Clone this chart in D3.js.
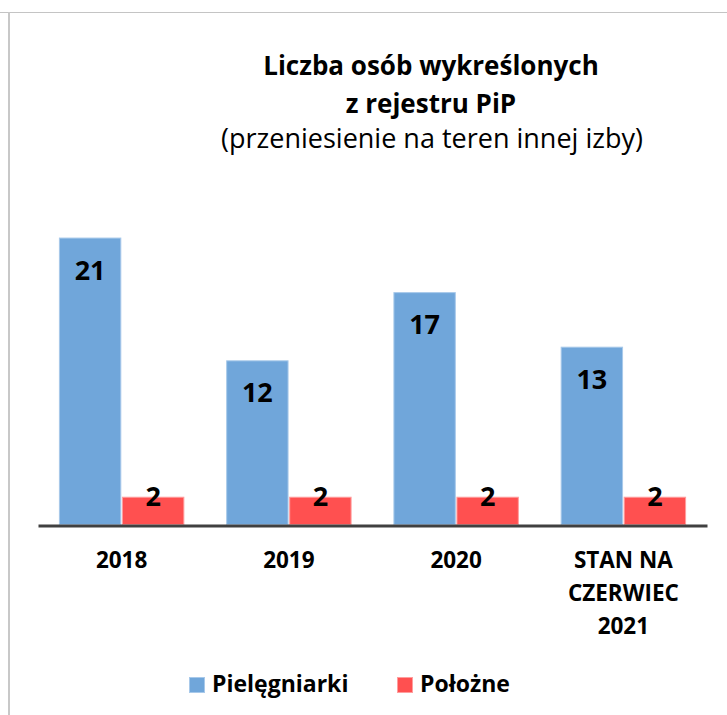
<!DOCTYPE html>
<html>
<head>
<meta charset="utf-8">
<script src="https://cdn.jsdelivr.net/npm/d3@7"></script>
<style>
  body { margin: 0; background: #fff; }
  svg { display: block; font-family: "Open Sans", Lato, sans-serif; }
</style>
</head>
<body>
<div id="chart"></div>
<script>
// categories + values
const categories = ["2018", "2019", "2020", "STAN NA CZERWIEC 2021"];
const catLines = [["2018"], ["2019"], ["2020"], ["STAN NA", "CZERWIEC", "2021"]];
const seriesNames = ["Pielęgniarki", "Położne"];
const pielegniarki = [21, 12, 17, 13];
const polozne = [2, 2, 2, 2];
const colors = ["#70a6da", "#ff5050"];
const strokes = ["#a8c9ea", "#ff9e9e"];

const width = 727, height = 715;
const margin = {top: 183, right: 20, bottom: 191, left: 38};

const svg = d3.select("#chart").append("svg")
  .attr("width", width).attr("height", height);

// frame lines (top + left)
svg.append("line").attr("x1", 0).attr("x2", width).attr("y1", 12.5).attr("y2", 12.5)
  .attr("stroke", "#c4c4c4").attr("stroke-width", 1);
svg.append("line").attr("x1", 9).attr("x2", 9).attr("y1", 12).attr("y2", height)
  .attr("stroke", "#c8c8c8").attr("stroke-width", 2);

const x = d3.scaleBand()
  .domain(categories)
  .range([margin.left, 707])
  .paddingInner(0.25)
  .paddingOuter(0.125);

const xs = d3.scaleBand()
  .domain(seriesNames)
  .range([0, x.bandwidth()])
  .paddingInner(0.01);

const y = d3.scaleLinear()
  .domain([0, 25])
  .range([524, margin.top]);

const data = categories.map((c, i) => ({
  cat: c,
  vals: [
    {s: seriesNames[0], v: pielegniarki[i], k: 0},
    {s: seriesNames[1], v: polozne[i], k: 1}
  ]
}));

// title
const title = svg.append("g").attr("text-anchor", "middle").attr("fill", "#000");
title.append("text").attr("x", 431).attr("y", 75)
  .attr("font-size", 26).attr("font-weight", "bold").text("Liczba osób wykreślonych");
title.append("text").attr("x", 431).attr("y", 113)
  .attr("font-size", 26).attr("font-weight", "bold").text("z rejestru PiP");
title.append("text").attr("x", 432).attr("y", 148)
  .attr("font-size", 27).text("(przeniesienie na teren innej izby)");

// bars
const groups = svg.append("g").selectAll("g")
  .data(data)
  .join("g")
  .attr("transform", d => `translate(${x(d.cat)},0)`);

groups.selectAll("rect")
  .data(d => d.vals)
  .join("rect")
  .attr("x", d => xs(d.s) + 0.5)
  .attr("y", d => y(d.v) + 0.5)
  .attr("width", xs.bandwidth() - 1)
  .attr("height", d => y(0) - y(d.v))
  .attr("fill", d => colors[d.k])
  .attr("stroke", d => strokes[d.k])
  .attr("stroke-width", 1);

groups.selectAll("text")
  .data(d => d.vals)
  .join("text")
  .attr("x", d => xs(d.s) + xs.bandwidth() / 2)
  .attr("y", d => d.k === 0 ? y(d.v) + 42 : y(d.v) + 9)
  .attr("text-anchor", "middle")
  .attr("font-size", 27)
  .attr("font-weight", "bold")
  .text(d => d.v);

// x axis
const xG = svg.append("g")
  .attr("transform", `translate(0,525.5)`)
  .call(d3.axisBottom(x).tickSize(0).tickFormat(""));
xG.select(".domain").attr("stroke", "#404040").attr("stroke-width", 3);

const labels = svg.append("g").selectAll("text")
  .data(categories)
  .join("text")
  .attr("x", d => x(d) + x.bandwidth() / 2)
  .attr("y", 568)
  .attr("text-anchor", "middle")
  .attr("font-size", 22.5)
  .attr("font-weight", "bold");
labels.selectAll("tspan")
  .data((d, i) => catLines[i])
  .join("tspan")
  .attr("x", function() { return this.parentNode.getAttribute("x"); })
  .attr("dy", (d, i) => i === 0 ? 0 : 33)
  .text(d => d);

// legend
const legendX = [189, 397];
const legend = svg.append("g").selectAll("g")
  .data(seriesNames)
  .join("g")
  .attr("transform", (d, i) => `translate(${legendX[i]},677)`);
legend.append("rect")
  .attr("x", 0.5).attr("y", 0.5).attr("width", 15).attr("height", 15)
  .attr("fill", (d, i) => colors[i])
  .attr("stroke", (d, i) => strokes[i]);
legend.append("text")
  .attr("x", 23).attr("y", 15)
  .attr("font-size", 23)
  .attr("font-weight", "bold")
  .text(d => d);
</script>
</body>
</html>
